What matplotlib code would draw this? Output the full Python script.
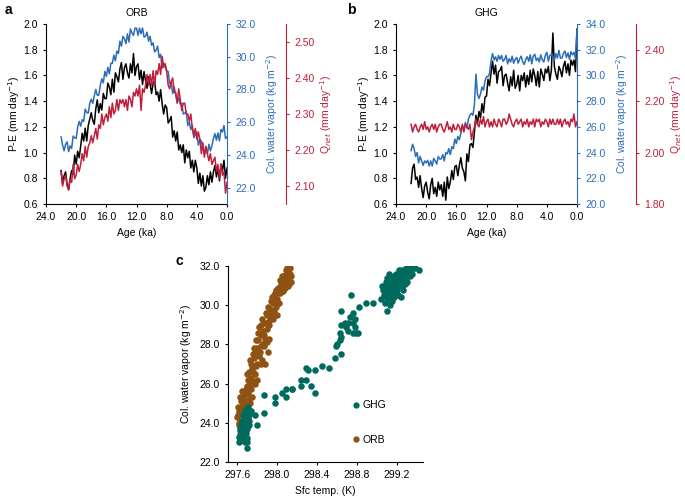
import numpy as np
import matplotlib
matplotlib.use("Agg")
from matplotlib import pyplot as plt
from matplotlib.lines import Line2D

plt.rcParams['font.family'] = ['Liberation Sans', 'DejaVu Sans']
plt.rcParams['font.size'] = 7.5
plt.rcParams['axes.linewidth'] = 0.8
plt.rcParams['xtick.major.size'] = 2.5
plt.rcParams['ytick.major.size'] = 2.5
plt.rcParams['xtick.major.width'] = 0.8
plt.rcParams['ytick.major.width'] = 0.8

BLUE = '#2d6db8'
RED = '#c01f3c'
TEAL = '#006a5d'
BROWN = '#8f5212'

# model output every 200 years, 22 ka -> 0 ka
age = np.round(np.arange(22.0, -0.01, -0.2), 1)

# ---- panel a : ORB ----
pe_orb = [0.86, 0.76, 0.82, 0.85, 0.75, 0.71, 0.80, 0.86, 0.83, 0.98,
          0.91, 1.01, 0.96, 1.05, 1.15, 1.09, 1.19, 1.09, 1.21, 1.26,
          1.31, 1.25, 1.22, 1.34, 1.41, 1.31, 1.38, 1.33, 1.46, 1.42,
          1.42, 1.54, 1.51, 1.45, 1.57, 1.47, 1.62, 1.59, 1.55, 1.65,
          1.70, 1.57, 1.66, 1.69, 1.62, 1.58, 1.69, 1.62, 1.77, 1.60,
          1.67, 1.69, 1.57, 1.64, 1.53, 1.63, 1.56, 1.50, 1.59, 1.53,
          1.46, 1.54, 1.56, 1.45, 1.47, 1.40, 1.49, 1.38, 1.30, 1.37,
          1.35, 1.23, 1.25, 1.28, 1.12, 1.17, 1.09, 1.16, 1.02, 1.06,
          1.00, 1.06, 0.92, 1.02, 0.96, 1.01, 0.88, 0.94, 0.85, 0.94,
          0.88, 0.76, 0.84, 0.74, 0.82, 0.70, 0.73, 0.82, 0.75, 0.85,
          0.77, 0.85, 0.90, 0.81, 0.88, 0.78, 0.91, 0.86, 0.94, 0.80, 0.88]

vap_orb = [25.1, 24.6, 24.25, 24.65, 24.8, 24.2, 24.55, 24.4, 25.15, 25.05,
           25.0, 25.7, 26.05, 25.75, 26.15, 26.05, 26.8, 26.6, 26.55, 27.15,
           27.4, 27.15, 27.6, 28.0, 27.65, 27.65, 28.25, 28.65, 28.4, 29.1,
           28.8, 29.35, 28.95, 29.6, 29.6, 30.1, 29.75, 30.35, 30.2, 30.95,
           30.65, 31.25, 31.1, 30.8, 31.4, 30.9, 31.7, 31.45, 31.3, 31.75,
           31.75, 31.3, 31.75, 31.4, 31.75, 31.2, 31.25, 31.5, 30.95, 31.25,
           30.7, 30.85, 30.3, 30.4, 30.65, 29.95, 30.15, 29.3, 29.6, 29.4,
           29.1, 29.1, 28.35, 28.45, 27.75, 28.15, 27.65, 27.2, 27.5, 27.1,
           27.15, 26.5, 26.55, 26.65, 25.8, 26.0, 25.55, 25.8, 25.05, 25.25,
           25.4, 24.6, 24.95, 24.85, 24.4, 24.05, 24.5, 24.05, 24.65, 24.25,
           24.55, 25.0, 25.3, 24.9, 25.35, 24.85, 25.55, 25.4, 25.8, 25.0, 25.1]

qnet_orb = [2.14, 2.10, 2.12, 2.13, 2.10, 2.09, 2.12, 2.11, 2.16, 2.12,
            2.13, 2.16, 2.14, 2.16, 2.19, 2.17, 2.21, 2.18, 2.21, 2.22,
            2.24, 2.22, 2.24, 2.26, 2.23, 2.27, 2.26, 2.30, 2.27, 2.29,
            2.30, 2.28, 2.32, 2.29, 2.33, 2.30, 2.31, 2.34, 2.31, 2.34,
            2.33, 2.34, 2.32, 2.34, 2.31, 2.35, 2.34, 2.32, 2.36, 2.35,
            2.37, 2.35, 2.38, 2.31, 2.37, 2.36, 2.38, 2.41, 2.38, 2.41,
            2.38, 2.42, 2.38, 2.42, 2.41, 2.44, 2.41, 2.46, 2.43, 2.44,
            2.42, 2.38, 2.37, 2.39, 2.40, 2.36, 2.36, 2.33, 2.37, 2.34,
            2.31, 2.33, 2.33, 2.30, 2.30, 2.28, 2.30, 2.26, 2.24, 2.26,
            2.23, 2.25, 2.23, 2.19, 2.22, 2.18, 2.21, 2.19, 2.17, 2.19,
            2.16, 2.17, 2.18, 2.14, 2.16, 2.12, 2.16, 2.13, 2.14, 2.08, 2.11]

# ---- panel b : GHG ----
pe_ghg = [0.76, 0.88, 0.91, 0.79, 0.81, 0.73, 0.82, 0.72, 0.65, 0.74,
          0.77, 0.69, 0.64, 0.75, 0.80, 0.68, 0.73, 0.66, 0.77, 0.71,
          0.75, 0.66, 0.77, 0.63, 0.81, 0.72, 0.77, 0.86, 0.79, 0.89,
          0.90, 0.82, 0.90, 0.96, 0.88, 0.85, 0.78, 0.99, 0.93, 1.06,
          1.07, 1.04, 1.16, 1.29, 1.22, 1.32, 1.27, 1.38, 1.31, 1.43,
          1.44, 1.57, 1.52, 1.62, 1.71, 1.61, 1.68, 1.54, 1.63, 1.64,
          1.67, 1.52, 1.60, 1.61, 1.54, 1.48, 1.59, 1.52, 1.64, 1.50,
          1.53, 1.60, 1.48, 1.60, 1.56, 1.62, 1.51, 1.60, 1.53, 1.64,
          1.55, 1.65, 1.60, 1.52, 1.63, 1.51, 1.65, 1.61, 1.56, 1.65,
          1.62, 1.67, 1.56, 1.64, 1.93, 1.67, 1.61, 1.57, 1.67, 1.64,
          1.59, 1.67, 1.71, 1.62, 1.69, 1.60, 1.72, 1.68, 1.72, 1.63, 1.96]

vap_ghg = [24.15, 24.65, 24.3, 23.7, 24.0, 23.2, 23.7, 23.35, 23.0, 23.35,
           23.2, 23.4, 22.95, 23.35, 22.95, 23.55, 23.35, 23.1, 23.7, 23.5,
           23.5, 23.85, 23.35, 24.0, 23.9, 24.3, 23.85, 24.45, 24.3, 25.05,
           24.7, 25.25, 25.0, 25.5, 26.05, 25.75, 26.35, 25.9, 26.6, 26.9,
           27.05, 26.9, 27.75, 30.1, 28.55, 28.2, 28.55, 29.1, 28.85, 29.55,
           29.9, 29.9, 30.15, 31.15, 31.7, 31.2, 31.45, 31.1, 31.55, 31.25,
           31.55, 31.1, 31.25, 31.55, 30.9, 31.3, 31.05, 31.5, 30.95, 31.25,
           31.4, 30.95, 31.3, 31.5, 31.05, 30.85, 31.25, 31.45, 31.1, 31.6,
           30.9, 31.5, 31.65, 31.15, 31.35, 31.05, 31.6, 31.2, 31.05, 31.55,
           31.8, 31.1, 31.55, 31.65, 31.4, 31.15, 31.7, 31.35, 31.95, 31.35,
           31.35, 31.7, 31.9, 31.4, 31.75, 31.25, 31.85, 31.6, 31.8, 31.3, 33.6]

qnet_ghg = [2.11, 2.08, 2.10, 2.11, 2.09, 2.08, 2.10, 2.11, 2.09, 2.12,
            2.09, 2.10, 2.08, 2.10, 2.11, 2.09, 2.11, 2.08, 2.10, 2.11,
            2.11, 2.09, 2.08, 2.10, 2.12, 2.09, 2.10, 2.08, 2.11, 2.09,
            2.09, 2.11, 2.10, 2.08, 2.11, 2.08, 2.11, 2.10, 2.09, 2.11,
            2.05, 2.08, 2.10, 2.13, 2.11, 2.10, 2.13, 2.11, 2.14, 2.10,
            2.12, 2.13, 2.10, 2.12, 2.10, 2.13, 2.11, 2.10, 2.13, 2.12,
            2.10, 2.13, 2.13, 2.11, 2.12, 2.15, 2.13, 2.11, 2.10, 2.12,
            2.13, 2.11, 2.12, 2.13, 2.10, 2.12, 2.11, 2.13, 2.10, 2.12,
            2.11, 2.13, 2.10, 2.13, 2.12, 2.13, 2.10, 2.12, 2.11, 2.13,
            2.12, 2.10, 2.13, 2.11, 2.13, 2.11, 2.11, 2.13, 2.11, 2.13,
            2.10, 2.12, 2.13, 2.11, 2.12, 2.10, 2.13, 2.12, 2.15, 2.10, 2.12]

# ---- panel c : surface temp vs column water vapor ----
tsfc_orb = [297.60, 297.63, 297.65, 297.62, 297.66, 297.64, 297.68, 297.70, 297.61, 297.67,
            297.69, 297.65, 297.72, 297.70, 297.73, 297.71, 297.66, 297.74, 297.76, 297.72,
            297.75, 297.78, 297.74, 297.77, 297.80, 297.78, 297.82, 297.80, 297.76, 297.84,
            297.81, 297.86, 297.79, 297.84, 297.88, 297.86, 297.82, 297.90, 297.88, 297.85,
            297.92, 297.90, 297.94, 297.93, 297.97, 297.91, 297.96, 297.99, 297.95, 298.00,
            298.02, 297.98, 298.03, 298.01, 298.05, 298.04, 298.08, 298.06, 298.10, 298.08,
            298.12, 298.11, 298.13, 298.09, 298.14, 298.07, 298.11, 297.85, 297.88, 297.92,
            297.68, 297.64, 297.70, 297.62, 297.66, 298.00, 297.97, 298.13, 297.80, 297.73,
            297.91, 297.84, 297.63,
            297.62, 297.64, 297.67, 297.69, 297.63, 297.68, 297.71, 297.74, 297.70, 297.76,
            297.73, 297.79, 297.77, 297.83, 297.81, 297.87, 297.84, 297.89, 297.92, 297.95,
            297.94, 297.98, 298.01, 298.03, 298.06, 298.09, 298.12, 298.10, 298.14, 298.05,
            297.99, 297.96, 297.87, 297.78, 297.66, 297.61, 297.75, 297.90, 298.02, 298.11]
cwv_orb = [24.3, 24.1, 23.6, 24.6, 24.9, 25.1, 24.4, 24.2, 24.8, 25.4,
           25.7, 25.6, 25.2, 25.9, 26.0, 25.5, 25.2, 26.3, 26.1, 26.6,
           26.8, 26.5, 27.0, 27.3, 27.0, 27.6, 27.4, 27.8, 27.5, 27.9,
           28.2, 28.0, 28.2, 28.5, 28.3, 28.7, 28.9, 28.8, 29.1, 29.3,
           29.2, 29.5, 29.4, 29.8, 29.7, 29.9, 30.1, 29.9, 30.4, 30.3,
           30.1, 30.6, 30.6, 30.9, 30.8, 31.1, 30.9, 31.3, 31.2, 31.5,
           31.4, 31.7, 31.9, 31.8, 31.2, 31.0, 31.0, 27.2, 27.0, 28.3,
           24.0, 24.5, 24.7, 23.9, 23.5, 29.5, 30.5, 31.6, 26.2, 25.0,
           27.6, 27.0, 23.6,
           24.0, 24.8, 24.2, 25.0, 25.3, 25.5, 26.2, 25.7, 26.5, 26.6,
           27.2, 26.9, 27.8, 27.6, 28.6, 28.5, 29.0, 29.6, 29.0, 29.6,
           30.2, 30.2, 30.6, 31.3, 30.7, 31.6, 31.1, 31.9, 31.5, 31.5,
           30.8, 29.3, 27.9, 26.0, 24.6, 24.4, 25.3, 28.1, 30.9, 31.8]

tsfc_ghg = [297.62, 297.64, 297.66, 297.63, 297.68, 297.65, 297.67, 297.69, 297.66, 297.70,
            297.68, 297.71, 297.69, 297.72, 297.67, 297.64, 297.70, 297.62, 297.73, 297.71,
            297.66, 297.68, 297.70, 297.65, 297.72, 297.74, 297.70, 297.63, 297.69, 297.67,
            297.65, 297.67, 297.69, 297.71, 297.66, 297.70, 297.63, 297.68, 297.72, 297.64,
            297.66, 297.70,
            297.78, 297.80, 297.87, 297.87, 297.98, 297.98, 298.05, 298.09, 298.09, 298.15,
            298.15, 298.24, 298.24, 298.29, 298.31, 298.29, 298.34, 298.38, 298.38, 298.45,
            298.52, 298.58, 298.64, 298.59, 298.60, 298.63, 298.64, 298.63, 298.64, 298.64,
            298.68, 298.71, 298.73, 298.74, 298.76, 298.76, 298.78, 298.79, 298.81, 298.78,
            298.76, 298.82, 298.89, 298.96, 298.71, 298.69,
            299.10, 299.04, 299.08, 299.10, 299.06, 299.12, 299.14, 299.08, 299.12, 299.16,
            299.18, 299.15, 299.10, 299.20, 299.13, 299.17, 299.20, 299.22, 299.24, 299.19,
            299.23, 299.26, 299.28, 299.25, 299.30, 299.32, 299.34, 299.36, 299.42, 299.30,
            299.28, 299.26, 299.11, 299.09, 299.14, 299.16, 299.18, 299.21, 299.07, 299.12,
            299.05, 299.17, 299.22, 299.33, 299.38, 299.24, 299.15, 299.19, 299.11, 299.27,
            299.09, 299.13, 299.16, 299.12, 299.15, 299.17, 299.13, 299.20, 299.18, 299.10,
            299.14, 299.19, 299.16, 299.21, 299.24, 299.27, 299.29, 299.31, 299.35, 299.11,
            299.08, 299.21, 299.25, 299.16, 299.29]
cwv_ghg = [23.0, 23.2, 23.1, 23.4, 23.3, 23.6, 23.8, 23.5, 24.0, 24.1,
           24.3, 24.5, 24.7, 24.4, 24.2, 23.9, 23.7, 23.3, 24.6, 24.8,
           23.4, 23.0, 23.2, 24.1, 23.9, 24.6, 22.7, 23.7, 24.0, 23.6,
           23.5, 23.3, 23.8, 24.2, 24.4, 24.5, 23.1, 24.6, 24.1, 23.4,
           23.8, 23.0,
           24.4, 23.9, 25.4, 24.5, 25.3, 25.0, 25.5, 25.3, 25.7, 25.7,
           25.7, 25.9, 26.2, 26.8, 26.7, 26.2, 25.9, 25.5, 26.7, 26.9,
           26.8, 27.3, 27.5, 27.9, 28.0, 28.2, 28.4, 28.6, 29.0, 29.7,
           29.1, 29.1, 29.4, 30.5, 29.1, 29.6, 28.9, 28.6, 28.6, 29.3,
           28.6, 29.9, 30.1, 30.1, 28.7, 28.9,
           29.7, 30.3, 30.1, 30.5, 30.8, 30.3, 30.7, 31.0, 31.2, 30.9,
           31.1, 31.4, 31.4, 31.3, 30.0, 30.4, 30.8, 31.0, 31.3, 31.6,
           31.6, 31.5, 31.7, 31.8, 31.6, 31.9, 31.8, 31.95, 31.8, 31.2,
           31.1, 30.8, 30.9, 31.2, 31.0, 31.2, 30.6, 30.5, 30.5, 31.6,
           31.0, 31.5, 31.8, 31.5, 31.9, 30.4, 30.2, 31.0, 30.7, 31.3,
           30.4, 30.5, 30.6, 30.9, 30.9, 31.3, 31.3, 31.1, 30.9, 30.7,
           31.1, 31.4, 31.0, 31.2, 31.5, 31.6, 31.9, 31.7, 31.6, 31.1,
           30.8, 31.5, 31.0, 30.4, 31.4]


def time_panel(rect, pe, vap, qnet, title, vap_lim, vap_ticks, q_lim, q_ticks):
    ax = fig.add_axes(rect)
    ax.plot(age, pe, color='black', lw=1.1)
    ax.set_xlim(24, 0)
    ax.set_ylim(0.6, 2.0)
    ax.set_xticks([24, 20, 16, 12, 8, 4, 0])
    ax.set_xticklabels(['%.1f' % t for t in [24, 20, 16, 12, 8, 4, 0]])
    ax.set_yticks(np.arange(0.6, 2.01, 0.2))
    ax.set_yticklabels(['%.1f' % t for t in np.arange(0.6, 2.01, 0.2)])
    ax.set_xlabel('Age (ka)')
    ax.set_ylabel('P-E (mm day$^{-1}$)', labelpad=1)
    ax.set_title(title, fontsize=7.5, pad=6)
    ax.spines['top'].set_visible(False)
    ax.spines['right'].set_visible(False)

    axb = ax.twinx()
    axb.plot(age, vap, color=BLUE, lw=1.1)
    axb.set_ylim(*vap_lim)
    axb.set_yticks(vap_ticks)
    axb.set_yticklabels(['%.1f' % t for t in vap_ticks])
    axb.set_ylabel('Col. water vapor (kg m$^{-2}$)', color=BLUE, labelpad=6)
    axb.tick_params(axis='y', colors=BLUE)
    axb.spines['right'].set_color(BLUE)
    for s in ['top', 'left', 'bottom']:
        axb.spines[s].set_visible(False)

    axr = ax.twinx()
    axr.plot(age, qnet, color=RED, lw=1.1)
    axr.set_ylim(*q_lim)
    axr.set_yticks(q_ticks)
    axr.set_yticklabels(['%.2f' % t for t in q_ticks])
    axr.set_ylabel('Q$_{net}$ (mm day$^{-1}$)', color=RED, labelpad=3)
    axr.tick_params(axis='y', colors=RED)
    axr.spines['right'].set_position(('axes', 1.325))
    axr.spines['right'].set_color(RED)
    for s in ['top', 'left', 'bottom']:
        axr.spines[s].set_visible(False)
    return ax


fig = plt.figure(figsize=(6.85, 4.98), dpi=100)

W, H = 685.0, 498.0
time_panel([46 / W, 1 - 204 / H, 181 / W, 180 / H], pe_orb, vap_orb, qnet_orb, 'ORB',
           (21, 32), [22, 24, 26, 28, 30, 32], (2.05, 2.55), [2.10, 2.20, 2.30, 2.40, 2.50])
time_panel([396 / W, 1 - 204 / H, 181 / W, 180 / H], pe_ghg, vap_ghg, qnet_ghg, 'GHG',
           (20, 34), [20, 22, 24, 26, 28, 30, 32, 34], (1.8, 2.5), [1.80, 2.00, 2.20, 2.40])

axc = fig.add_axes([228 / W, 1 - 462 / H, 195 / W, 196 / H])
axc.scatter(tsfc_orb, cwv_orb, s=22, color=BROWN, linewidths=0, zorder=2)
axc.scatter(tsfc_ghg, cwv_ghg, s=22, color=TEAL, linewidths=0, zorder=3)
axc.set_xlim(297.51, 299.46)
axc.set_ylim(22, 32)
axc.set_xticks([297.6, 298.0, 298.4, 298.8, 299.2])
axc.set_xticklabels(['%.1f' % t for t in [297.6, 298.0, 298.4, 298.8, 299.2]])
axc.set_yticks(np.arange(22, 32.1, 2))
axc.set_yticklabels(['%.1f' % t for t in np.arange(22, 32.1, 2)])
axc.set_xlabel('Sfc temp. (K)')
axc.set_ylabel('Col. water vapor (kg m$^{-2}$)')
axc.spines['top'].set_visible(False)
axc.spines['right'].set_visible(False)
handles = [Line2D([], [], ls='none', marker='o', ms=3.5, color=TEAL),
           Line2D([], [], ls='none', marker='o', ms=3.5, color=BROWN)]
axc.legend(handles, ['GHG', 'ORB'], frameon=False, loc='lower left',
           bbox_to_anchor=(0.58, 0.04), labelspacing=2.35, handletextpad=0.2,
           handlelength=1.0, fontsize=7.5)

fig.text(5 / W, 1 - 10 / H, 'a', fontsize=10, fontweight='bold', va='center')
fig.text(347 / W, 1 - 10 / H, 'b', fontsize=10, fontweight='bold', va='center')
fig.text(175 / W, 1 - 261 / H, 'c', fontsize=10, fontweight='bold', va='center')

plt.savefig('out.png', dpi=100)
